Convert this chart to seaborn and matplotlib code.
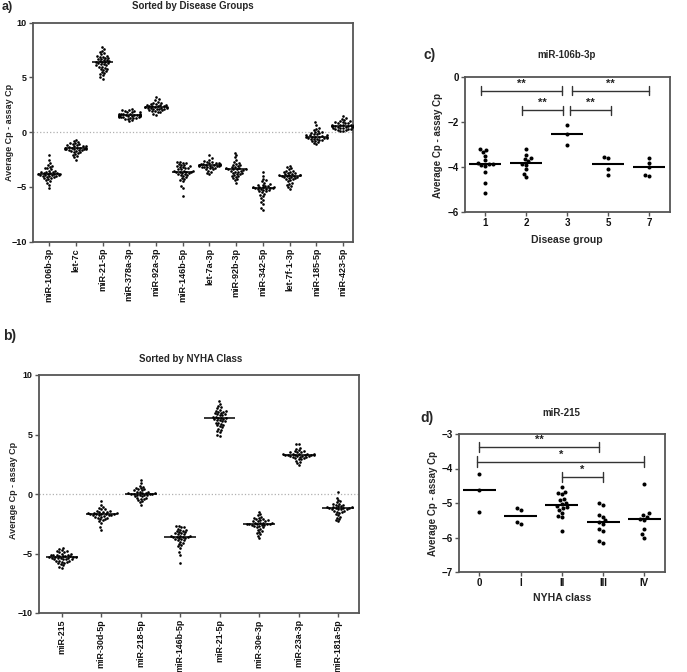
import warnings
import numpy as np
import pandas as pd
import seaborn as sns
import matplotlib
matplotlib.use("Agg")
import matplotlib.pyplot as plt

warnings.filterwarnings("ignore")

# ---------------- data: panel a (sorted by disease groups) ----------------
a_cats = ["miR-106b-3p", "let-7c", "miR-21-5p", "miR-378a-3p", "miR-92a-3p",
          "miR-146b-5p", "let-7a-3p", "miR-92b-3p", "miR-342-5p", "let-7f-1-3p",
          "miR-185-5p", "miR-423-5p"]
mir106b = [-2.1, -2.5, -2.8, -3.0, -3.1, -3.2, -3.3, -3.3, -3.4, -3.5, -3.5, -3.6, -3.6,
           -3.7, -3.7, -3.7, -3.8, -3.8, -3.8, -3.8, -3.9, -3.9, -3.9, -4.0, -4.0, -4.1,
           -4.1, -4.2, -4.2, -4.3, -4.4, -4.5, -4.6, -4.8, -5.1, -3.6, -3.9, -4.0]
let7c = [-0.7, -0.8, -0.9, -1.0, -1.0, -1.1, -1.1, -1.2, -1.2, -1.3, -1.3, -1.3, -1.4,
         -1.4, -1.4, -1.4, -1.5, -1.5, -1.5, -1.5, -1.6, -1.6, -1.6, -1.7, -1.7, -1.8,
         -1.8, -1.9, -2.0, -2.1, -2.2, -2.3, -2.5, -1.45, -1.35, -1.55]
mir21 = [7.8, 7.6, 7.4, 7.3, 7.2, 7.1, 7.0, 6.9, 6.9, 6.8, 6.7, 6.7, 6.6, 6.5, 6.5, 6.4,
         6.4, 6.4, 6.3, 6.3, 6.2, 6.2, 6.1, 6.0, 6.0, 5.9, 5.8, 5.7, 5.6, 5.5, 5.4, 5.3,
         5.2, 5.0, 4.9, 6.6, 6.1, 5.8, 7.0, 6.8]
mir378a = [2.1, 2.0, 2.0, 1.9, 1.9, 1.8, 1.8, 1.8, 1.7, 1.7, 1.7, 1.7, 1.6, 1.6, 1.6, 1.6,
           1.6, 1.5, 1.5, 1.5, 1.5, 1.5, 1.4, 1.4, 1.4, 1.4, 1.3, 1.3, 1.3, 1.2, 1.2, 1.1,
           1.0, 1.55, 1.65, 1.45]
mir92a = [3.2, 3.0, 2.9, 2.8, 2.7, 2.7, 2.6, 2.6, 2.5, 2.5, 2.5, 2.4, 2.4, 2.4, 2.3, 2.3,
          2.3, 2.3, 2.2, 2.2, 2.2, 2.1, 2.1, 2.1, 2.0, 2.0, 1.9, 1.9, 1.8, 1.8, 1.7, 1.6,
          2.35, 2.25, 2.15]
mir146b = [-2.7, -2.7, -2.8, -2.8, -2.9, -3.0, -3.0, -3.1, -3.1, -3.2, -3.2, -3.3, -3.3,
           -3.4, -3.4, -3.5, -3.5, -3.6, -3.6, -3.6, -3.7, -3.7, -3.8, -3.8, -3.9, -3.9,
           -4.0, -4.1, -4.2, -4.3, -4.4, -4.5, -4.9, -5.1, -5.8, -3.55, -3.65]
let7a = [-2.1, -2.4, -2.5, -2.6, -2.7, -2.7, -2.8, -2.8, -2.8, -2.9, -2.9, -2.9, -3.0,
         -3.0, -3.0, -3.0, -3.0, -3.1, -3.1, -3.1, -3.2, -3.2, -3.2, -3.3, -3.3, -3.4,
         -3.4, -3.5, -3.6, -3.7, -3.8, -2.95, -3.05, -3.15]
mir92b = [-1.9, -2.1, -2.3, -2.5, -2.7, -2.8, -2.9, -3.0, -3.0, -3.1, -3.2, -3.2, -3.3,
          -3.3, -3.4, -3.4, -3.4, -3.5, -3.5, -3.6, -3.6, -3.7, -3.7, -3.8, -3.8, -3.9,
          -4.0, -4.0, -4.1, -4.2, -4.3, -4.4, -4.6, -3.45, -3.35]
mir342 = [-3.6, -4.0, -4.3, -4.4, -4.5, -4.6, -4.7, -4.8, -4.8, -4.9, -4.9, -5.0, -5.0,
          -5.0, -5.1, -5.1, -5.1, -5.2, -5.2, -5.3, -5.3, -5.4, -5.4, -5.5, -5.6, -5.7,
          -5.8, -6.0, -6.2, -6.4, -6.6, -6.9, -7.1, -5.15, -5.05]
let7f = [-3.1, -3.2, -3.3, -3.4, -3.5, -3.5, -3.6, -3.6, -3.7, -3.7, -3.8, -3.8, -3.9,
         -3.9, -3.9, -4.0, -4.0, -4.0, -4.1, -4.1, -4.2, -4.2, -4.3, -4.3, -4.4, -4.5,
         -4.6, -4.7, -4.8, -4.9, -5.0, -5.2, -4.05, -3.95]
mir185 = [0.9, 0.7, 0.4, 0.3, 0.2, 0.1, 0.0, 0.0, -0.1, -0.1, -0.2, -0.2, -0.3, -0.3,
          -0.3, -0.4, -0.4, -0.4, -0.4, -0.5, -0.5, -0.5, -0.6, -0.6, -0.6, -0.7, -0.7,
          -0.8, -0.8, -0.9, -1.0, -1.1, -0.45, -0.35]
mir423 = [1.5, 1.3, 1.2, 1.1, 1.0, 1.0, 0.9, 0.9, 0.8, 0.8, 0.8, 0.7, 0.7, 0.7, 0.7, 0.6,
          0.6, 0.6, 0.6, 0.5, 0.5, 0.5, 0.5, 0.4, 0.4, 0.4, 0.3, 0.3, 0.3, 0.2, 0.2, 0.1,
          0.1, 0.65, 0.55]
a_vals = [mir106b, let7c, mir21, mir378a, mir92a, mir146b, let7a, mir92b, mir342,
          let7f, mir185, mir423]

# ---------------- data: panel b (sorted by NYHA class) ----------------
b_cats = ["miR-215", "miR-30d-5p", "miR-218-5p", "miR-146b-5p", "miR-21-5p",
          "miR-30e-3p", "miR-23a-3p", "miR-181a-5p"]
mir215 = [-4.5, -4.6, -4.7, -4.8, -4.8, -4.9, -4.9, -5.0, -5.0, -5.1, -5.1, -5.1, -5.2,
          -5.2, -5.2, -5.3, -5.3, -5.3, -5.3, -5.4, -5.4, -5.4, -5.5, -5.5, -5.5, -5.6,
          -5.6, -5.7, -5.7, -5.8, -5.8, -5.9, -6.0, -6.1, -6.2, -5.35, -5.25, -5.45,
          -5.15, -5.65]
mir30d = [-0.6, -0.9, -1.1, -1.2, -1.3, -1.3, -1.4, -1.4, -1.5, -1.5, -1.5, -1.6, -1.6,
          -1.6, -1.7, -1.7, -1.7, -1.7, -1.8, -1.8, -1.8, -1.9, -1.9, -2.0, -2.0, -2.1,
          -2.1, -2.2, -2.3, -2.4, -2.8, -3.0, -1.65, -1.75, -1.85]
mir218 = [1.2, 0.9, 0.7, 0.6, 0.5, 0.5, 0.4, 0.4, 0.3, 0.3, 0.2, 0.2, 0.2, 0.1, 0.1, 0.1,
          0.0, 0.0, 0.0, 0.0, -0.1, -0.1, -0.1, -0.2, -0.2, -0.3, -0.3, -0.4, -0.4, -0.5,
          -0.6, -0.7, -0.9, 0.05, -0.05]
mir30e = [-1.5, -1.7, -1.8, -1.9, -2.0, -2.0, -2.1, -2.1, -2.2, -2.2, -2.3, -2.3, -2.3,
          -2.4, -2.4, -2.4, -2.5, -2.5, -2.5, -2.5, -2.6, -2.6, -2.6, -2.7, -2.7, -2.8,
          -2.8, -2.9, -3.0, -3.1, -3.2, -3.3, -3.4, -3.5, -3.7, -2.45, -2.55]
mir23a = [4.2, 4.2, 3.9, 3.8, 3.7, 3.6, 3.6, 3.5, 3.5, 3.5, 3.4, 3.4, 3.4, 3.4, 3.3, 3.3,
          3.3, 3.3, 3.3, 3.2, 3.2, 3.2, 3.2, 3.1, 3.1, 3.1, 3.0, 3.0, 2.9, 2.9, 2.8, 2.7,
          2.6, 2.4, 3.25, 3.35]
mir181a = [0.2, -0.3, -0.5, -0.6, -0.7, -0.8, -0.8, -0.9, -0.9, -1.0, -1.0, -1.1, -1.1,
           -1.1, -1.2, -1.2, -1.2, -1.3, -1.3, -1.3, -1.4, -1.4, -1.5, -1.5, -1.6, -1.7,
           -1.8, -1.9, -2.0, -2.1, -2.2, -2.3, -1.25, -1.15]
b_vals = [mir215, mir30d, mir218, mir146b, mir21, mir30e, mir23a, mir181a]

# ---------------- data: panel c (miR-106b-3p by disease group) ----------------
c_cats = ["1", "2", "3", "5", "7"]
c_g1 = [-3.2, -3.25, -3.35, -3.5, -3.7, -3.8, -3.88, -3.9, -3.95, -4.2, -4.7, -5.15, -3.85]
c_g2 = [-3.2, -3.45, -3.6, -3.65, -3.75, -3.85, -3.9, -4.1, -4.3, -4.45]
c_g3 = [-2.15, -2.55, -3.0]
c_g5 = [-3.55, -3.6, -4.1, -4.35]
c_g7 = [-3.6, -3.8, -4.0, -4.35, -4.4]
c_vals = [c_g1, c_g2, c_g3, c_g5, c_g7]
# brackets: (start, end, height, label)
c_brackets = [(-0.1, 1.88, -0.62, "**"), (2.12, 4.0, -0.62, "**"),
              (0.9, 1.9, -1.47, "**"), (2.07, 3.07, -1.47, "**")]

# ---------------- data: panel d (miR-215 by NYHA class) ----------------
d_cats = ["0", "I", "II", "III", "IV"]
d_g0 = [-4.15, -4.63, -5.25]
d_g1 = [-5.15, -5.2, -5.55, -5.6]
d_g2 = [-4.55, -4.68, -4.72, -4.75, -4.88, -4.92, -5.0, -5.02, -5.1, -5.12, -5.15,
        -5.2, -5.28, -5.38, -5.42, -5.8]
d_g3 = [-5.0, -5.05, -5.35, -5.4, -5.5, -5.55, -5.6, -5.75, -5.8, -6.1, -6.15]
d_g4 = [-4.45, -5.3, -5.35, -5.4, -5.47, -5.5, -5.75, -5.9, -6.0]
d_vals = [d_g0, d_g1, d_g2, d_g3, d_g4]
d_brackets = [(0.0, 2.9, -3.37, "**"), (-0.05, 4.0, -3.8, "*"), (2.0, 3.0, -4.25, "*")]

# ---------------- styling ----------------
sns.set_theme(style="white")
plt.rcParams["font.family"] = ["Liberation Sans", "DejaVu Sans"]
plt.rcParams["font.weight"] = "bold"
plt.rcParams["axes.labelweight"] = "bold"

W, H = 687, 672
fig = plt.figure(figsize=(W / 100, H / 100), dpi=100)
SPINE = "#555555"


def px_axes(l, t, r, b):
    return fig.add_axes([l / W, 1 - b / H, (r - l) / W, (b - t) / H])


def ftext(x, y, s, **kw):
    fig.text(x / W, 1 - y / H, s, **kw)


def panel(ax, cats, vals, size, xlim, ylim, yticks, labelsize, rot=0, zero=False,
          medlw=1.1):
    df = pd.DataFrame({"cat": np.repeat(cats, [len(v) for v in vals]),
                       "val": np.concatenate([np.asarray(v, float) for v in vals])})
    if zero:
        ax.axhline(0, color="#b0b0b0", ls=":", lw=0.9, zorder=0)
    sns.boxplot(data=df, x="cat", y="val", order=cats, ax=ax, width=0.8,
                showbox=False, showcaps=False, showfliers=False, whis=0,
                whiskerprops={"visible": False},
                medianprops={"color": "black", "linewidth": medlw})
    sns.swarmplot(data=df, x="cat", y="val", order=cats, ax=ax, color="black",
                  size=size, linewidth=0)
    ax.set_xlim(*xlim)
    ax.set_ylim(*ylim)
    ax.set_yticks(yticks)
    ax.set_xlabel("")
    ax.set_ylabel("")
    for sp in ax.spines.values():
        sp.set_color(SPINE)
        sp.set_linewidth(1.3)
    ax.tick_params(axis="both", direction="out", length=3, width=1, color=SPINE,
                   labelsize=labelsize, pad=1.5, labelcolor="#111111",
                   bottom=True, left=True)
    if rot:
        ax.tick_params(axis="x", labelrotation=rot)


def brackets(ax, items, cap, off):
    for x1, x2, y, lab in items:
        ax.plot([x1, x2], [y, y], color="#333333", lw=1.0)
        ax.plot([x1, x1], [y - cap, y + cap], color="#333333", lw=1.0)
        ax.plot([x2, x2], [y - cap, y + cap], color="#333333", lw=1.0)
        ax.text((x1 + x2) / 2, y + off, lab, ha="center", va="center",
                fontsize=8, fontweight="bold", color="#222222")


# panel a
ax_a = px_axes(33, 22.7, 353, 241.7)
panel(ax_a, a_cats, a_vals, 1.9, (-0.6, 11.37), (-10, 10), [-10, -5, 0, 5, 10], 6.5,
      rot=90, zero=True)
ftext(193, 6, "Sorted by Disease Groups", ha="center", va="center", fontsize=7)
ftext(10, 132, "Average Cp - assay Cp", rotation=90, ha="center", va="center", fontsize=6.5)
ftext(2, 1, "a)", ha="left", va="top", fontsize=9, fontweight="bold")

# panel b
ax_b = px_axes(39, 375, 359, 613)
panel(ax_b, b_cats, b_vals, 1.9, (-0.58, 7.53), (-10, 10), [-10, -5, 0, 5, 10], 6.4,
      rot=90, zero=True)
ftext(191, 359, "Sorted by NYHA Class", ha="center", va="center", fontsize=7)
ftext(13, 490, "Average Cp - assay Cp", rotation=90, ha="center", va="center", fontsize=6.5)
ftext(3, 336, "b)", ha="left", va="center", fontsize=10, fontweight="bold")

# panel c
ax_c = px_axes(465, 77, 670, 212)
panel(ax_c, c_cats, c_vals, 2.9, (-0.49, 4.51), (-6, 0), [-6, -4, -2, 0], 7, medlw=1.5)
brackets(ax_c, c_brackets, 0.2, 0.33)
ftext(567, 55, "miR-106b-3p", ha="center", va="center", fontsize=7)
ftext(438, 145, "Average Cp - assay Cp", rotation=90, ha="center", va="center", fontsize=7)
ftext(567, 240, "Disease group", ha="center", va="center", fontsize=7.5)
ftext(423, 55, "c)", ha="left", va="center", fontsize=10, fontweight="bold")

# panel d
ax_d = px_axes(459, 434, 665, 572)
panel(ax_d, d_cats, d_vals, 2.9, (-0.49, 4.5), (-7, -3), [-7, -6, -5, -4, -3], 7, medlw=1.5)
brackets(ax_d, d_brackets, 0.15, 0.2)
ftext(561, 413, "miR-215", ha="center", va="center", fontsize=7)
ftext(433, 503, "Average Cp - assay Cp", rotation=90, ha="center", va="center", fontsize=7)
ftext(562, 598, "NYHA class", ha="center", va="center", fontsize=7.5)
ftext(420, 418, "d)", ha="left", va="center", fontsize=10, fontweight="bold")

fig.savefig("out.png", dpi=100, facecolor="white")
